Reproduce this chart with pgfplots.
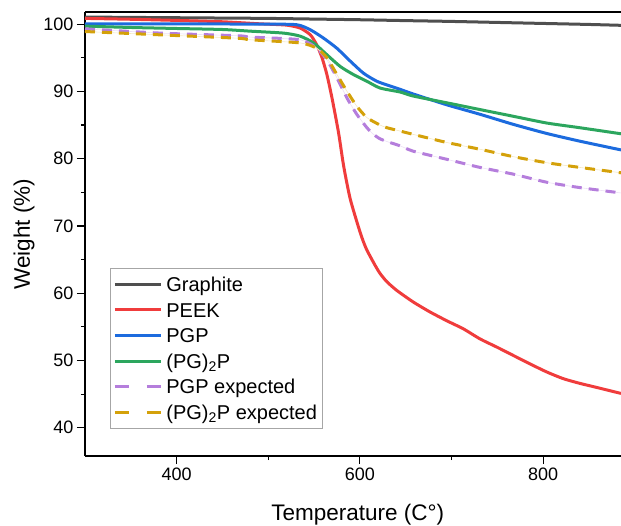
\documentclass[border=0pt]{standalone}
\usepackage{fontspec}
\setmainfont{Liberation Sans}
\usepackage{pgfplots}
\usepackage{pgfplotstable}
\pgfplotsset{compat=1.18}
\definecolor{cgra}{HTML}{4F4F4F}
\definecolor{cpeek}{HTML}{F03C3C}
\definecolor{cpgp}{HTML}{1C6BDE}
\definecolor{cpg2}{HTML}{2CA65E}
\definecolor{cpur}{HTML}{B57EDC}
\definecolor{cora}{HTML}{D4A10A}
\pgfplotsset{
  solidlegend/.style={legend image code/.code={\draw[##1] (0pt,0pt) -- (46pt,0pt);}},
  dashlegend/.style={legend image code/.code={\draw[##1, dash pattern=on 14pt off 18pt] (0pt,0pt) -- (46pt,0pt);}},
}

\pgfplotstableread{
x y
300 101.05
350 101.0
400 100.95
450 100.9
500 100.85
550 100.75
600 100.65
650 100.52
700 100.4
750 100.25
800 100.1
850 99.95
885 99.82
}\graphite

\pgfplotstableread{
x y
300 100.85
350 100.72
400 100.55
450 100.35
490 100.05
520 99.85
535 99.4
546 98.4
553 96.9
558.7 95.0
564 92.5
569.6 89.0
576.8 83.8
582.3 78.9
589.5 74.0
600.4 69.0
607 66.6
616.8 64.1
622.2 62.9
629.5 61.7
640.4 60.4
658.5 58.67
676.7 57.2
694.9 55.9
713 54.7
731.2 53.2
749.3 52.0
767.4 50.75
785.6 49.5
803.8 48.3
821.9 47.3
840 46.6
858.2 46.0
885 45.1
}\peek

\pgfplotstableread{
x y
300 100.05
400 100.03
500 100.0
531.5 99.9
546 99.15
560.5 97.9
575 96.4
589.5 94.5
604 92.7
618.6 91.5
633 90.8
644 90.3
658.5 89.6
695 88.0
731 86.6
767.4 85.1
803.8 83.75
840 82.6
885 81.3
}\pgp

\pgfplotstableread{
x y
300 99.7
350 99.5
400 99.35
450 99.2
480.6 98.95
517 98.66
535 98.2
549.6 97.2
564 95.45
578.6 93.7
593 92.5
607.7 91.5
622 90.5
644 89.9
658.5 89.3
695 88.3
731 87.3
767.4 86.3
803.8 85.3
840 84.6
885 83.7
}\pgtwo

\pgfplotstableread{
x y
300 99.3
383 98.66
467 98.27
480.6 98.07
535 97.67
553 96.4
564 94.7
575 92.0
586 89.0
596.6 86.6
607.7 84.6
615 83.6
622 82.95
629.5 82.55
644 81.9
658.5 81.1
695 79.9
731 78.7
767.4 77.7
803.8 76.5
840 75.7
885 74.9
}\pgpexp

\pgfplotstableread{
x y
300 98.9
383 98.4
467 97.9
480.6 97.67
535 97.2
553 96.4
564 95.0
575 92.5
586 90.0
596.6 87.8
607.7 86.1
622 85.0
629.5 84.6
644 84.1
658.5 83.6
695 82.4
731 81.4
767.4 80.3
803.8 79.4
840 78.7
885 77.9
}\pgtwoexp

\begin{document}
\begin{tikzpicture}
\begin{axis}[
  at={(0,0)}, anchor=south west,
  scale only axis, width=536pt, height=444pt,
  xmin=300, xmax=885, ymin=35.8, ymax=101.8,
  axis x line*=box, axis y line*=left,
  axis line style={-, line width=1.3pt, black},
  xtick={400,600,800}, minor xtick={500,700},
  ytick={40,50,...,100}, minor ytick={45,55,...,95},
  xtick pos=left, ytick pos=left,
  tick align=outside,
  major tick length=8pt, minor tick length=4pt,
  every tick/.style={black, line width=1.2pt},
  /pgf/number format/assume math mode=true,
  tick label style={font=\fontsize{18}{21}\selectfont},
  label style={font=\fontsize{22.5}{27}\selectfont},
  xlabel={Temperature (C°)}, ylabel={Weight (\%)},
  xlabel style={at={(axis description cs:0.509,-0.1329)}, anchor=center},
  ylabel style={at={(axis description cs:-0.1138,0.5)}, anchor=center},
  legend style={at={(axis description cs:0.0466,0.4234)}, anchor=north west,
    draw=black!35, line width=0.8pt, fill=white,
    inner xsep=3pt, inner ysep=3pt, row sep=0pt, column sep=2pt,
    font=\fontsize{20}{24}\selectfont,
    nodes={inner xsep=2pt, inner ysep=0pt, text height=20pt, text depth=5.6pt},
    cells={anchor=west}},
  solidlegend,
  every axis plot/.append style={line width=3pt, line join=round, smooth, tension=0.4},
]
\addplot[cgra] table {\graphite};
\addlegendentry{Graphite}
\addplot[cpeek] table {\peek};
\addlegendentry{PEEK}
\addplot[cpgp] table {\pgp};
\addlegendentry{PGP}
\addplot[cpg2] table {\pgtwo};
\addlegendentry{(PG)\textsubscript{2}P}
\addplot[forget plot, cpur!25, line width=0.6pt] table {\pgpexp};
\addplot[cpur, dash pattern=on 10pt off 7pt, dashlegend] table {\pgpexp};
\addlegendentry{PGP expected}
\addplot[forget plot, cora!25, line width=0.6pt] table {\pgtwoexp};
\addplot[cora, dash pattern=on 10pt off 7pt, dashlegend] table {\pgtwoexp};
\addlegendentry{(PG)\textsubscript{2}P expected}
\end{axis}
\pgfresetboundingbox
\useasboundingbox (-85pt,-69pt) rectangle (536pt,456pt);
\end{tikzpicture}
\end{document}
